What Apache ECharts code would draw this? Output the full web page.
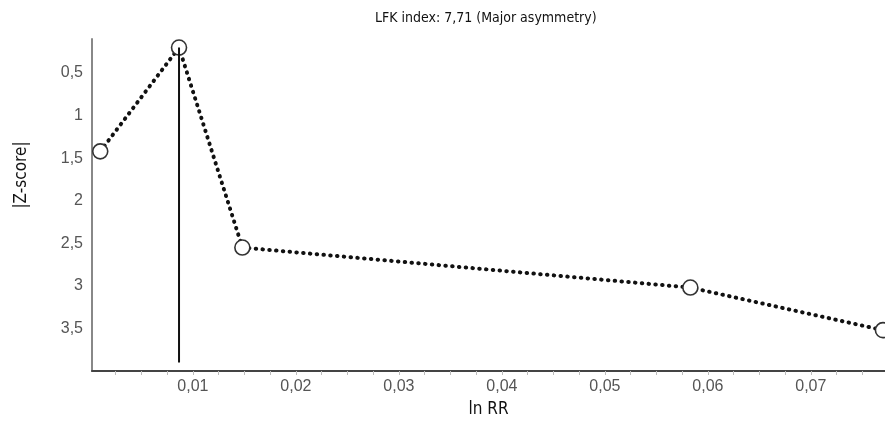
<!doctype html>
<html lang="en">
<head>
    <meta charset="UTF-8">
    <title>LFK index</title>
    <script src="https://cdn.jsdelivr.net/npm/echarts@6/dist/echarts.min.js"></script>
    <style>
        html, body { margin: 0; padding: 0; background: #fff; }
        #main { width: 885px; height: 423px; }
    </style>
</head>
<body>
<div id="main"></div>
<script type="text/javascript">
    // Doi plot data: ln RR against |Z-score|
    var lnRR = [0.0010, 0.00865, 0.0148, 0.0583, 0.0770];
    var zScore = [1.42, 0.20, 2.55, 3.02, 3.52];

    // vertical reference line (at the point with the lowest |Z|)
    var refX = [0.00865, 0.00865];
    var refZ = [0.20, 3.90];

    var xTicks = [0.01, 0.02, 0.03, 0.04, 0.05, 0.06, 0.07];
    var yTicks = [0.5, 1, 1.5, 2, 2.5, 3, 3.5];

    // small ticks on the x axis every 0.0025
    var xMinorTicks = [];
    for (var i = 1; i <= 30; i++) {
        xMinorTicks.push(+(i * 0.0025).toFixed(4));
    }

    var titleText = 'LFK index: 7,71 (Major asymmetry)';

    function pairs(xs, ys) {
        var out = [];
        for (var i = 0; i < xs.length; i++) {
            out.push([xs[i], ys[i]]);
        }
        return out;
    }

    function comma(v) {
        return String(+v.toFixed(2)).replace('.', ',');
    }

    var myChart = echarts.init(document.getElementById('main'));

    var option = {
        backgroundColor: '#fff',
        animation: false,
        title: {
            text: titleText,
            left: 370,
            top: 6,
            textStyle: {
                fontFamily: '"DejaVu Sans Condensed", "DejaVu Sans", sans-serif',
                fontSize: 14,
                fontWeight: 'normal',
                color: '#111'
            }
        },
        graphic: [{
            type: 'text',
            x: 22,
            y: 175,
            rotation: Math.PI / 2,
            style: {
                text: '|Z-score|',
                fontFamily: '"DejaVu Sans Condensed", "DejaVu Sans", sans-serif',
                fontSize: 17,
                fill: '#111',
                align: 'center',
                verticalAlign: 'middle'
            }
        }],
        grid: {
            left: 92,
            right: 0,
            top: 39,
            bottom: 50
        },
        xAxis: {
            type: 'value',
            min: 0.0002,
            max: 0.0772,
            name: 'ln RR',
            nameLocation: 'middle',
            nameGap: 30,
            nameTextStyle: {
                fontFamily: '"DejaVu Sans Condensed", "DejaVu Sans", sans-serif',
                fontSize: 17,
                color: '#111'
            },
            axisLine: {lineStyle: {color: '#444', width: 2}},
            axisTick: {
                show: true,
                length: 4,
                customValues: xMinorTicks,
                lineStyle: {color: '#bbb', width: 1}
            },
            axisLabel: {
                customValues: xTicks,
                margin: 8,
                fontFamily: 'Arial, "Liberation Sans", sans-serif',
                fontSize: 16,
                color: '#555',
                formatter: comma
            },
            splitLine: {show: false}
        },
        yAxis: {
            type: 'value',
            inverse: true,
            min: 0.1,
            max: 4,
            axisLine: {show: true, lineStyle: {color: '#888', width: 2}},
            axisTick: {show: false},
            axisLabel: {
                customValues: yTicks,
                margin: 9,
                fontFamily: 'Arial, "Liberation Sans", sans-serif',
                fontSize: 16,
                color: '#555',
                formatter: comma
            },
            splitLine: {show: false}
        },
        series: [
            {
                name: 'studies',
                type: 'line',
                data: pairs(lnRR, zScore),
                clip: false,
                symbol: 'circle',
                symbolSize: 15,
                lineStyle: {
                    color: '#111',
                    width: 4,
                    type: [0.5, 6.3],
                    cap: 'round'
                },
                itemStyle: {
                    color: '#fff',
                    borderColor: '#333',
                    borderWidth: 1.6
                },
                z: 2
            },
            {
                name: 'reference',
                type: 'line',
                data: pairs(refX, refZ),
                symbol: 'none',
                lineStyle: {color: '#111', width: 2, type: 'solid'},
                z: 3
            }
        ]
    };

    myChart.setOption(option);
</script>
</body>
</html>
